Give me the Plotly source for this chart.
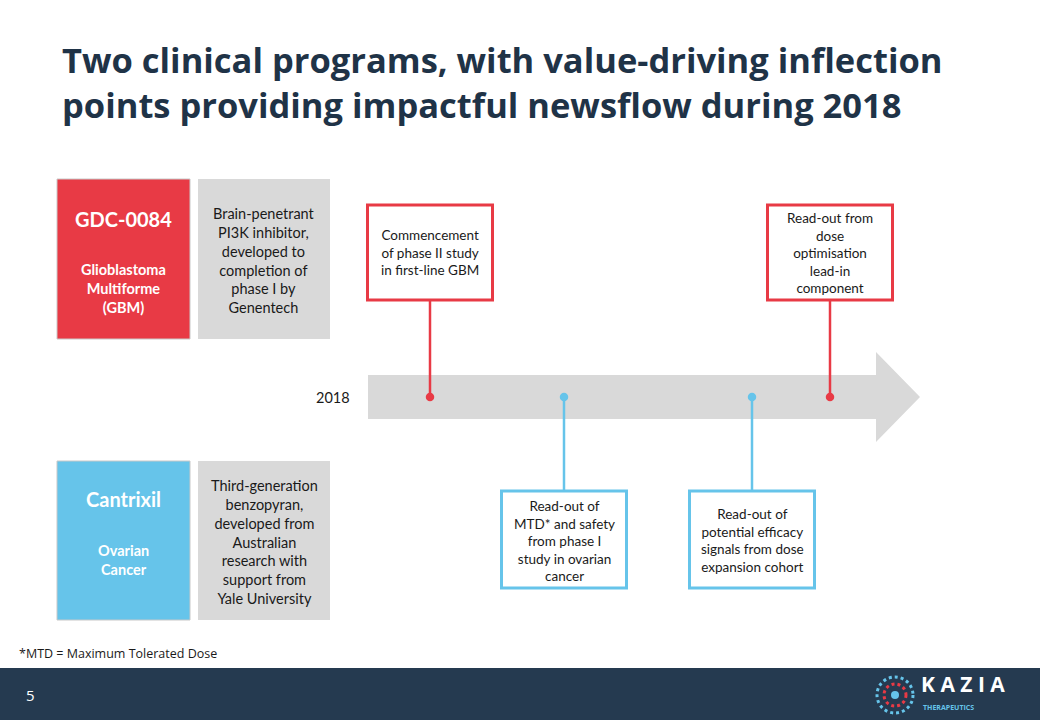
import plotly.graph_objects as go

# ---- content ----
title_lines = ["Two clinical programs, with value-driving inflection",
               "points providing impactful newsflow during 2018"]

programs = ["GDC-0084", "Cantrixil"]
indications = ["Glioblastoma<br>Multiforme<br>(GBM)", "Ovarian<br>Cancer"]
descriptions = [
    "Brain-penetrant<br>PI3K inhibitor,<br>developed to<br>completion of<br>phase I by<br>Genentech",
    "Third-generation<br>benzopyran,<br>developed from<br>Australian<br>research with<br>support from<br>Yale University",
]
program_colors = ["#E83A45", "#66C4EA"]

# milestones on the 2018 timeline (position along arrow, px) and which program
event_pos = [430, 564, 752, 830]
event_prog = [0, 1, 1, 0]
event_text = [
    "Commencement<br>of phase II study<br>in first-line GBM",
    "Read-out of<br>MTD* and safety<br>from phase I<br>study in ovarian<br>cancer",
    "Read-out of<br>potential efficacy<br>signals from dose<br>expansion cohort",
    "Read-out from<br>dose<br>optimisation<br>lead-in<br>component",
]
timeline_label = "2018"
footnote = "*MTD = Maximum Tolerated Dose"
page_no = "5"

navy = "#253A50"
title_col = "#1F3347"
grey = "#D9D9D9"
body_font = "Lato"

fig = go.Figure()
shapes = []
annots = []

# title
annots.append(dict(x=60, y=82, xanchor="left", yanchor="middle",
                   text="<b>" + "<br>".join(title_lines) + "</b>",
                   font=dict(family="Open Sans", size=34.5, color=title_col), align="left"))

# program blocks
prog_top = [179, 461]
prog_bot = [339, 620]
for i in range(2):
    t, b = prog_top[i], prog_bot[i]
    shapes.append(dict(type="rect", x0=57, x1=190, y0=t, y1=b,
                       fillcolor=program_colors[i], line=dict(color="#C8C8C8", width=1)))
    shapes.append(dict(type="rect", x0=198, x1=330, y0=t, y1=b,
                       fillcolor=grey, line=dict(width=0)))
    annots.append(dict(x=123.5, y=t + 40 if i == 0 else t + 38, text="<b>" + programs[i] + "</b>",
                       font=dict(family=body_font, size=20, color="white")))
    annots.append(dict(x=123.5, y=t + 109 if i == 0 else t + 99, text="<b>" + indications[i] + "</b>",
                       font=dict(family=body_font, size=14.5, color="white")))
    annots.append(dict(x=264, y=(t + b) / 2 + 1, text=descriptions[i],
                       font=dict(family=body_font, size=14.5, color="#1A1A1A")))

# timeline arrow
shapes.append(dict(type="path",
                   path="M 368 375 L 876 375 L 876 352 L 920 397 L 876 442 L 876 419 L 368 419 Z",
                   fillcolor=grey, line=dict(width=0), layer="below"))
annots.append(dict(x=352, y=397, xanchor="right", text=timeline_label,
                   font=dict(family=body_font, size=14.5, color="#1A1A1A")))

# milestone boxes and connectors
for i, pos in enumerate(event_pos):
    col = program_colors[event_prog[i]]
    above = event_prog[i] == 0
    if above:
        y0, y1 = 205, 300
        ly = [300, 397]
    else:
        y0, y1 = 491, 588
        ly = [397, 491]
    shapes.append(dict(type="rect", x0=pos - 62.5, x1=pos + 62.5, y0=y0, y1=y1,
                       fillcolor="white", line=dict(color=col, width=3)))
    fig.add_trace(go.Scatter(x=[pos, pos], y=ly, mode="lines",
                             line=dict(color=col, width=2.5), hoverinfo="skip"))
    fig.add_trace(go.Scatter(x=[pos], y=[397], mode="markers",
                             marker=dict(color=col, size=8.5), hoverinfo="skip"))
    annots.append(dict(x=pos, y=(y0 + y1) / 2 + (1 if not above else 0),
                       text=event_text[i],
                       font=dict(family=body_font, size=13.5, color="#1A1A1A")))

# footnote
annots.append(dict(x=17, y=653, xanchor="left", text=footnote,
                   font=dict(family="Open Sans", size=12.5, color="#1A1A1A")))

# footer bar
shapes.append(dict(type="rect", x0=0, x1=1040, y0=668, y1=720,
                   fillcolor=navy, line=dict(width=0), layer="below"))
annots.append(dict(x=30, y=695, text=page_no,
                   font=dict(family="Open Sans", size=15, color="white")))

# logo
shapes.append(dict(type="circle", x0=877, x1=913, y0=677, y1=713,
                   line=dict(color="#66C4EA", width=3, dash="dot")))
shapes.append(dict(type="circle", x0=884, x1=906, y0=684, y1=706,
                   line=dict(color="#E83A45", width=3, dash="dot")))
shapes.append(dict(type="circle", x0=891, x1=899, y0=691, y1=699,
                   fillcolor="#66C4EA", line=dict(width=0)))
annots.append(dict(x=920, y=699, xanchor="left", yanchor="bottom", borderpad=0,
                   text="<b>K A Z I A</b>",
                   font=dict(family="Open Sans", size=21, color="white")))
annots.append(dict(x=922, y=702, xanchor="left", yanchor="top", borderpad=0,
                   text="<b>THERAPEUTICS</b>",
                   font=dict(family="Open Sans", size=7, color="#66C4EA")))

for a in annots:
    a.setdefault("xref", "x")
    a.setdefault("yref", "y")
    a.setdefault("showarrow", False)

fig.update_layout(
    width=1040, height=720,
    margin=dict(l=0, r=0, t=0, b=0),
    paper_bgcolor="white", plot_bgcolor="white",
    showlegend=False,
    shapes=shapes, annotations=annots,
    xaxis=dict(range=[0, 1040], visible=False, fixedrange=True),
    yaxis=dict(range=[720, 0], visible=False, fixedrange=True),
)

# page has a default 8px body margin; remove it so the slide fills the window
fig.write_html("out.html", config={"displayModeBar": False},
               post_script="document.body.style.margin='0';document.body.style.overflow='hidden';")
